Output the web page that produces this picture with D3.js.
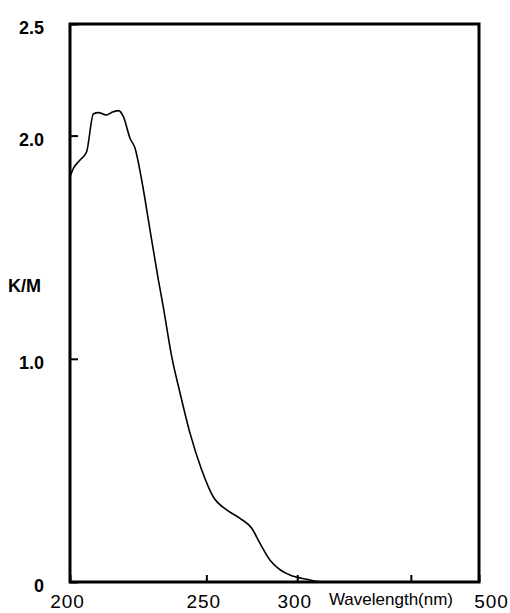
<!DOCTYPE html>
<html>
<head>
    <meta charset="UTF-8">
    <title>K/M spectrum</title>
    <script src="https://d3js.org/d3.v7.min.js"></script>
    <style>
        body { margin: 0; background: #fff; }
        svg { display: block; }
        .frame { fill: none; stroke: #000; stroke-width: 3; }
        .curve { fill: none; stroke: #000; stroke-width: 1.6; stroke-linejoin: round; }
        .y-label { font-family: "Liberation Sans", Arial, sans-serif; font-size: 18px; font-weight: bold; }
        .x-label { font-family: "Liberation Sans", Arial, sans-serif; font-size: 19px; letter-spacing: 1px; }
        .axis-title { font-family: "Liberation Sans", Arial, sans-serif; font-size: 17px; }
    </style>
</head>
<body>
<div id="chart"></div>
<script>
    // 数据：波长(nm) 与 K/M
    const wavelength = [200, 201.0, 203.0, 205.0, 207.1, 208.7, 211.2, 213.0, 215.3, 217.0,
                        219.3, 221.1, 223.5, 226.6, 229.8, 231.7, 235.1, 238.5, 242.7, 247.9,
                        253.2, 259.7, 266.5, 272.7, 277.3, 283.0, 288.0, 295.3, 306.4, 315.8, 323.3];
    const km = [1.816, 1.853, 1.891, 1.928, 2.097, 2.103, 2.092, 2.104, 2.112, 2.085,
                1.988, 1.943, 1.801, 1.577, 1.353, 1.233, 1.009, 0.847, 0.668, 0.502,
                0.382, 0.323, 0.285, 0.241, 0.173, 0.099, 0.061, 0.031, 0.012, 0.001, 0];

    const xTicks = [200, 250, 300, 400, 500];
    const xTickLabels = ["200", "250", "300", "", "500"];
    const yTicks = [0, 1.0, 2.0, 2.5];
    const yTickLabels = ["0", "1.0", "2.0", "2.5"];

    const W = 510, H = 613;
    const plotL = 70, plotR = 479, plotT = 24, plotB = 582;

    const svg = d3.select("#chart").append("svg")
        .attr("width", W)
        .attr("height", H);

    // 横轴按能量(1/λ)线性
    const xr = d3.scaleLinear().domain([1 / 200, 1 / 500]).range([plotL, plotR]);
    const x = d => xr(1 / d);
    const y = d3.scaleLinear().domain([0, 2.5]).range([plotB, plotT]);

    // 曲线
    const pts = wavelength.map((w, i) => [w, km[i]]);
    svg.append("path")
        .datum(pts)
        .attr("class", "curve")
        .attr("d", d3.line().x(d => x(d[0])).y(d => y(d[1])).curve(d3.curveMonotoneX));

    // x轴 刻度向内
    const xAxis = svg.append("g")
        .attr("transform", `translate(0,${plotB})`)
        .call(d3.axisBottom(xr)
            .tickValues(xTicks.map(t => 1 / t))
            .tickSizeInner(-7)
            .tickSizeOuter(0)
            .tickPadding(13)
            .tickFormat((d, i) => xTickLabels[i]));
    xAxis.select(".domain").remove();
    xAxis.selectAll("line").attr("stroke", "#000").attr("stroke-width", 2);
    xAxis.selectAll("text")
        .attr("class", "x-label")
        .attr("fill", "#000")
        .attr("dy", "0.71em")
        .attr("dx", (d, i) => i === xTicks.length - 1 ? 12 : -3);

    // y轴 刻度向内
    const yAxis = svg.append("g")
        .attr("transform", `translate(${plotL},0)`)
        .call(d3.axisLeft(y)
            .tickValues(yTicks)
            .tickSizeInner(-8)
            .tickSizeOuter(0)
            .tickPadding(0)
            .tickFormat((d, i) => yTickLabels[i]));
    yAxis.select(".domain").remove();
    yAxis.selectAll("line").attr("stroke", "#000").attr("stroke-width", 2);
    yAxis.selectAll("text")
        .attr("class", "y-label")
        .attr("fill", "#000")
        .attr("x", -26)
        .attr("dy", "0.55em");

    // 外框
    svg.append("rect")
        .attr("class", "frame")
        .attr("x", plotL)
        .attr("y", plotT)
        .attr("width", plotR - plotL)
        .attr("height", plotB - plotT);

    // 轴标题
    svg.append("text")
        .attr("class", "y-label")
        .attr("x", 8)
        .attr("y", 292)
        .text("K/M");

    svg.append("text")
        .attr("class", "axis-title")
        .attr("text-anchor", "middle")
        .attr("x", 391)
        .attr("y", 605)
        .text("Wavelength(nm)");
</script>
</body>
</html>
